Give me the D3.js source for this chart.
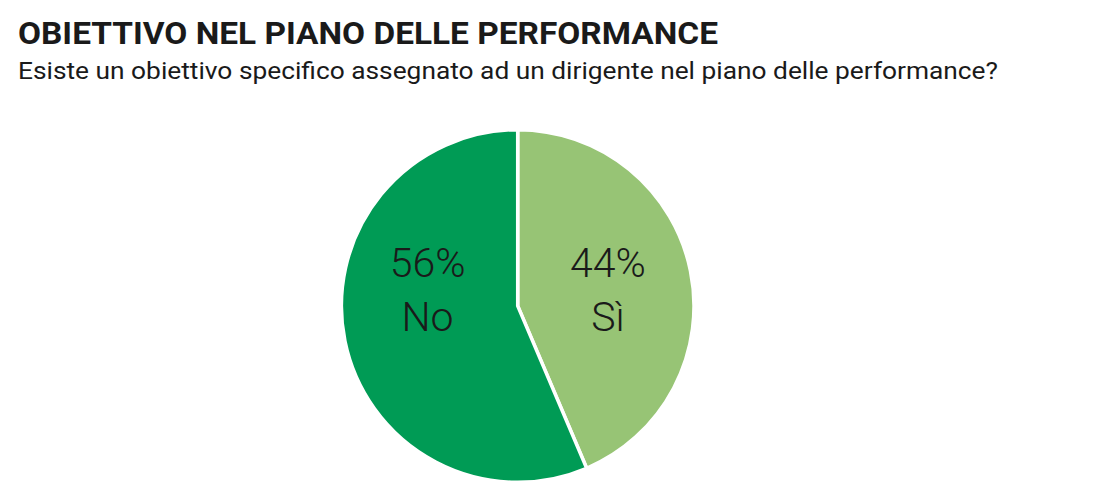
<!DOCTYPE html>
<html><head><meta charset="utf-8">
<script src="https://cdn.jsdelivr.net/npm/d3@7"></script>
<style>body{margin:0;background:#fff}svg{display:block}</style>
</head><body>
<svg id="c" width="1112" height="500"></svg>
<script>
const categories = ["Sì", "No"];
const values = [43.6, 56.4];
const colors = ["#97c475", "#009b55"];
const title = "OBIETTIVO NEL PIANO DELLE PERFORMANCE";
const subtitle = "Esiste un obiettivo specifico assegnato ad un dirigente nel piano delle performance?";

const svg = d3.select("#c");
const font = "Roboto, 'Open Sans', sans-serif";
svg.append("text").attr("x", 18).attr("y", 44).attr("font-family", font)
  .attr("font-weight", 700).attr("font-size", 32).attr("fill", "#1a1a1a")
  .attr("textLength", 700).attr("lengthAdjust", "spacingAndGlyphs").text(title);
svg.append("text").attr("x", 18).attr("y", 79).attr("font-family", font)
  .attr("font-size", 24).attr("fill", "#1a1a1a")
  .attr("textLength", 980).attr("lengthAdjust", "spacingAndGlyphs").text(subtitle);

const cx = 517.7, cy = 306, r = 176.3;
const pie = d3.pie().sort(null).value(d => d.v);
const data = pie(categories.map((c, i) => ({c, v: values[i], col: colors[i]})));
const arc = d3.arc().innerRadius(0).outerRadius(r);
const g = svg.append("g").attr("transform", `translate(${cx},${cy})`);
g.selectAll("path").data(data).join("path")
  .attr("d", arc).attr("fill", d => d.data.col)
  .attr("stroke", "#fff").attr("stroke-width", 3.5).attr("stroke-linejoin", "miter");

const fmt = d3.format(".0f");
const labelArc = d3.arc().innerRadius(92).outerRadius(92);
const lab = g.selectAll("g.lab").data(data).join("g").attr("class", "lab")
  .attr("transform", d => `translate(${labelArc.centroid(d)[0]},0)`);
lab.append("text").attr("text-anchor", "middle").attr("y", -29)
  .attr("font-family", font).attr("font-weight", 300).attr("font-size", 41).attr("fill", "#1a1a1a")
  .text(d => fmt(d.data.v) + "%");
lab.append("text").attr("text-anchor", "middle").attr("y", 25)
  .attr("font-family", font).attr("font-weight", 300).attr("font-size", 41).attr("fill", "#1a1a1a")
  .text(d => d.data.c);
</script>
</body></html>
